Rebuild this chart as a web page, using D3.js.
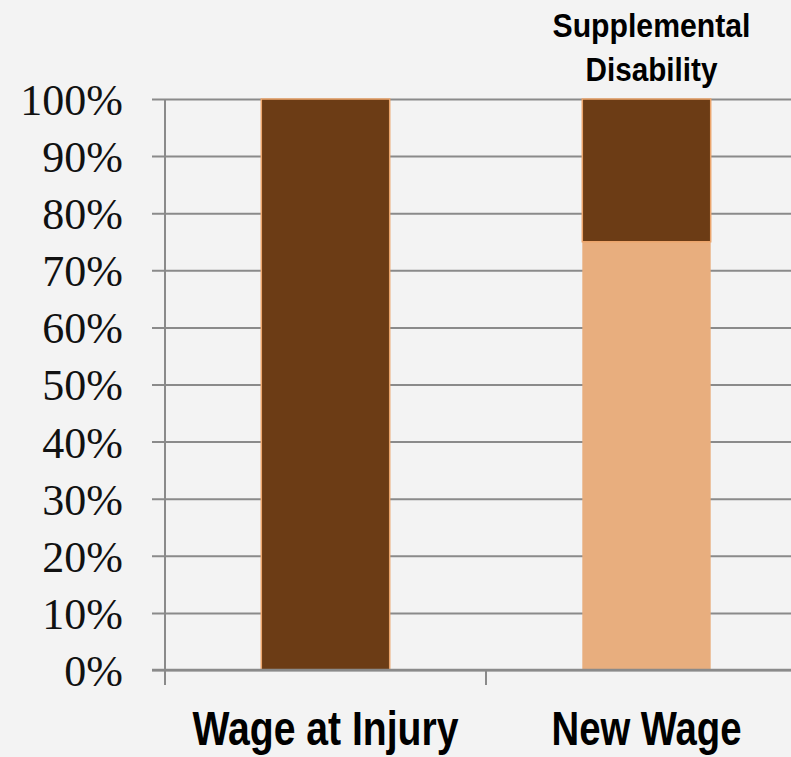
<!DOCTYPE html>
<html>
<head>
<meta charset="utf-8">
<script src="https://cdn.jsdelivr.net/npm/d3@7"></script>
<style>
  html, body { margin: 0; padding: 0; background: #f3f3f3; }
  svg { display: block; }
</style>
</head>
<body>
<svg id="chart" width="791" height="757"></svg>
<script>
// ---- data ----
const categories = ["Wage at Injury", "New Wage"];
const seriesNames = ["New Wage Portion", "Supplemental Disability"];
const newWagePortion = [0, 75];
const supplementalDisability = [100, 25];
const yTickValues = [0, 10, 20, 30, 40, 50, 60, 70, 80, 90, 100];
const yTickLabels = ["0%", "10%", "20%", "30%", "40%", "50%", "60%", "70%", "80%", "90%", "100%"];
const annotationLines = ["Supplemental", "Disability"];

// ---- layout ----
const W = 791, H = 757;
const plot = { left: 165, right: 807, top: 99, bottom: 670 };
const colors = { light: "#e8ae7e", dark: "#6c3c15", stroke: "#eca56c", grid: "#8a8a8a" };

const svg = d3.select("#chart");
svg.append("rect").attr("width", W).attr("height", H).attr("fill", "#f3f3f3");

const x = d3.scaleBand().domain(categories).range([plot.left, plot.right])
  .paddingInner(0.6).paddingOuter(0.3);
const y = d3.scaleLinear().domain([0, 100]).range([plot.bottom, plot.top]);

const rows = categories.map((c, i) => ({
  category: c,
  [seriesNames[0]]: newWagePortion[i],
  [seriesNames[1]]: supplementalDisability[i]
}));
const stacked = d3.stack().keys(seriesNames)(rows);

// gridlines + y axis ticks
const yAxis = d3.axisLeft(y).tickValues(yTickValues)
  .tickSize(-(W - plot.left)).tickSizeOuter(0)
  .tickFormat((d, i) => yTickLabels[i]);
const gy = svg.append("g").attr("transform", `translate(${plot.left},0)`).call(yAxis);
gy.select(".domain").remove();
gy.selectAll(".tick line").attr("stroke", colors.grid).attr("stroke-width", 2).attr("x1", -13);
gy.selectAll(".tick text")
  .attr("x", -42).attr("dy", "0.35em")
  .attr("font-family", "'Liberation Serif', 'Times New Roman', serif")
  .attr("font-size", 44).attr("fill", "#111").attr("text-anchor", "end");

// y axis vertical line
svg.append("line").attr("x1", plot.left).attr("x2", plot.left)
  .attr("y1", y(100)).attr("y2", plot.bottom + 15)
  .attr("stroke", colors.grid).attr("stroke-width", 2);

// category boundary ticks
const step = x.step();
const boundaries = d3.range(categories.length + 1).map(i => plot.left + i * step);
svg.selectAll("line.cat").data(boundaries).enter().append("line")
  .attr("class", "cat")
  .attr("x1", d => d).attr("x2", d => d)
  .attr("y1", plot.bottom).attr("y2", plot.bottom + 15)
  .attr("stroke", colors.grid).attr("stroke-width", 2);

// bars
const fillFor = { [seriesNames[0]]: colors.light, [seriesNames[1]]: colors.dark };
stacked.forEach(s => {
  svg.append("g").selectAll("rect").data(s).enter().append("rect")
    .filter(d => d[1] - d[0] > 0)
    .attr("x", d => x(d.data.category))
    .attr("width", x.bandwidth())
    .attr("y", d => y(d[1]))
    .attr("height", d => y(d[0]) - y(d[1]))
    .attr("fill", fillFor[s.key])
    .attr("stroke", s.key === seriesNames[1] ? colors.stroke : "none")
    .attr("stroke-width", 1.5);
});

// x axis line
svg.append("line").attr("x1", plot.left - 13).attr("x2", W)
  .attr("y1", plot.bottom).attr("y2", plot.bottom)
  .attr("stroke", colors.grid).attr("stroke-width", 2.5);

// category labels
const catWidths = [266, 190];
svg.selectAll("text.cat").data(categories).enter().append("text")
  .attr("class", "cat")
  .attr("x", d => x(d) + x.bandwidth() / 2)
  .attr("y", 745)
  .attr("text-anchor", "middle")
  .attr("font-family", "'Liberation Sans Narrow', 'Liberation Sans', Arial, sans-serif")
  .attr("font-weight", "bold").attr("font-size", 48).attr("fill", "#000")
  .attr("textLength", (d, i) => catWidths[i]).attr("lengthAdjust", "spacingAndGlyphs")
  .text(d => d);

// annotation above second bar
const annWidths = [198, 132];
const ax = x(categories[1]) + x.bandwidth() / 2 + 5;
svg.selectAll("text.ann").data(annotationLines).enter().append("text")
  .attr("class", "ann")
  .attr("x", ax).attr("y", (d, i) => 37 + i * 44)
  .attr("text-anchor", "middle")
  .attr("font-family", "'Liberation Sans Narrow', 'Liberation Sans', Arial, sans-serif")
  .attr("font-weight", "bold").attr("font-size", 33).attr("fill", "#000")
  .attr("textLength", (d, i) => annWidths[i]).attr("lengthAdjust", "spacingAndGlyphs")
  .text(d => d);
</script>
</body>
</html>
